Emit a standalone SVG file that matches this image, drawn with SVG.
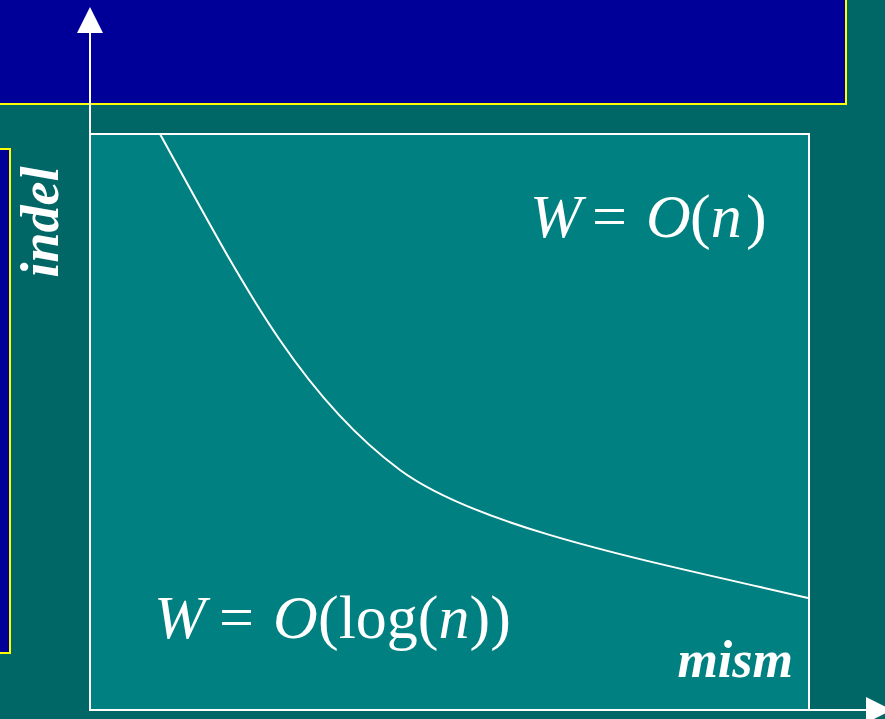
<svg xmlns="http://www.w3.org/2000/svg" width="885" height="719" viewBox="0 0 885 719">
<defs>
<style>
.panel{fill:#000099;stroke:#FFFF00;stroke-width:2}
.axis{stroke:#FFFFFF;stroke-width:2;fill:none}
.math{font-family:"Liberation Serif","Times New Roman",serif;font-size:62px;fill:#FFFFFF}
.it{font-style:italic}
.lbl{font-family:"Liberation Serif","Times New Roman",serif;font-size:52px;font-weight:bold;font-style:italic;fill:#FFFFFF}
</style>
<marker id="arr" markerWidth="26" markerHeight="26" refX="0" refY="13" orient="auto" markerUnits="userSpaceOnUse">
<path d="M0,0 L26,13 L0,26 Z" fill="#FFFFFF"/>
</marker>
</defs>
<rect x="0" y="0" width="885" height="719" fill="#006666"/>
<g id="title-panel"><rect class="panel" x="-3" y="-3" width="849" height="107"/></g>
<g id="side-panel"><rect class="panel" x="-3" y="149" width="13" height="504"/></g>
<g id="plot"><rect x="90" y="134" width="719" height="576" fill="#008080" stroke="#FFFFFF" stroke-width="2"/></g>
<g id="connectors">
<line class="axis" x1="90" y1="710" x2="90" y2="33" marker-end="url(#arr)"/>
<line class="axis" x1="90" y1="710" x2="866" y2="710" marker-end="url(#arr)"/>
<path class="axis" d="M160,134 C242.5,284 300,396 400,470 C480,529 658,563 808,598"/>
</g>
<g id="label-linear">
<text class="math" y="237"><tspan class="it" x="530">W</tspan><tspan x="592">=</tspan><tspan class="it" x="646">O</tspan><tspan x="690">(</tspan><tspan class="it">n</tspan><tspan x="746">)</tspan></text>
</g>
<g id="label-log">
<text class="math" y="638"><tspan class="it" x="154">W</tspan><tspan x="219">=</tspan><tspan class="it" x="273">O</tspan><tspan x="318">(log(</tspan><tspan class="it">n</tspan><tspan>))</tspan></text>
</g>
<g id="label-indel"><text class="lbl" style="font-size:54px" transform="translate(58,222) rotate(-90)" text-anchor="middle">indel</text></g>
<g id="label-mism"><text class="lbl" x="793" y="677" text-anchor="end">mism</text></g>
</svg>
